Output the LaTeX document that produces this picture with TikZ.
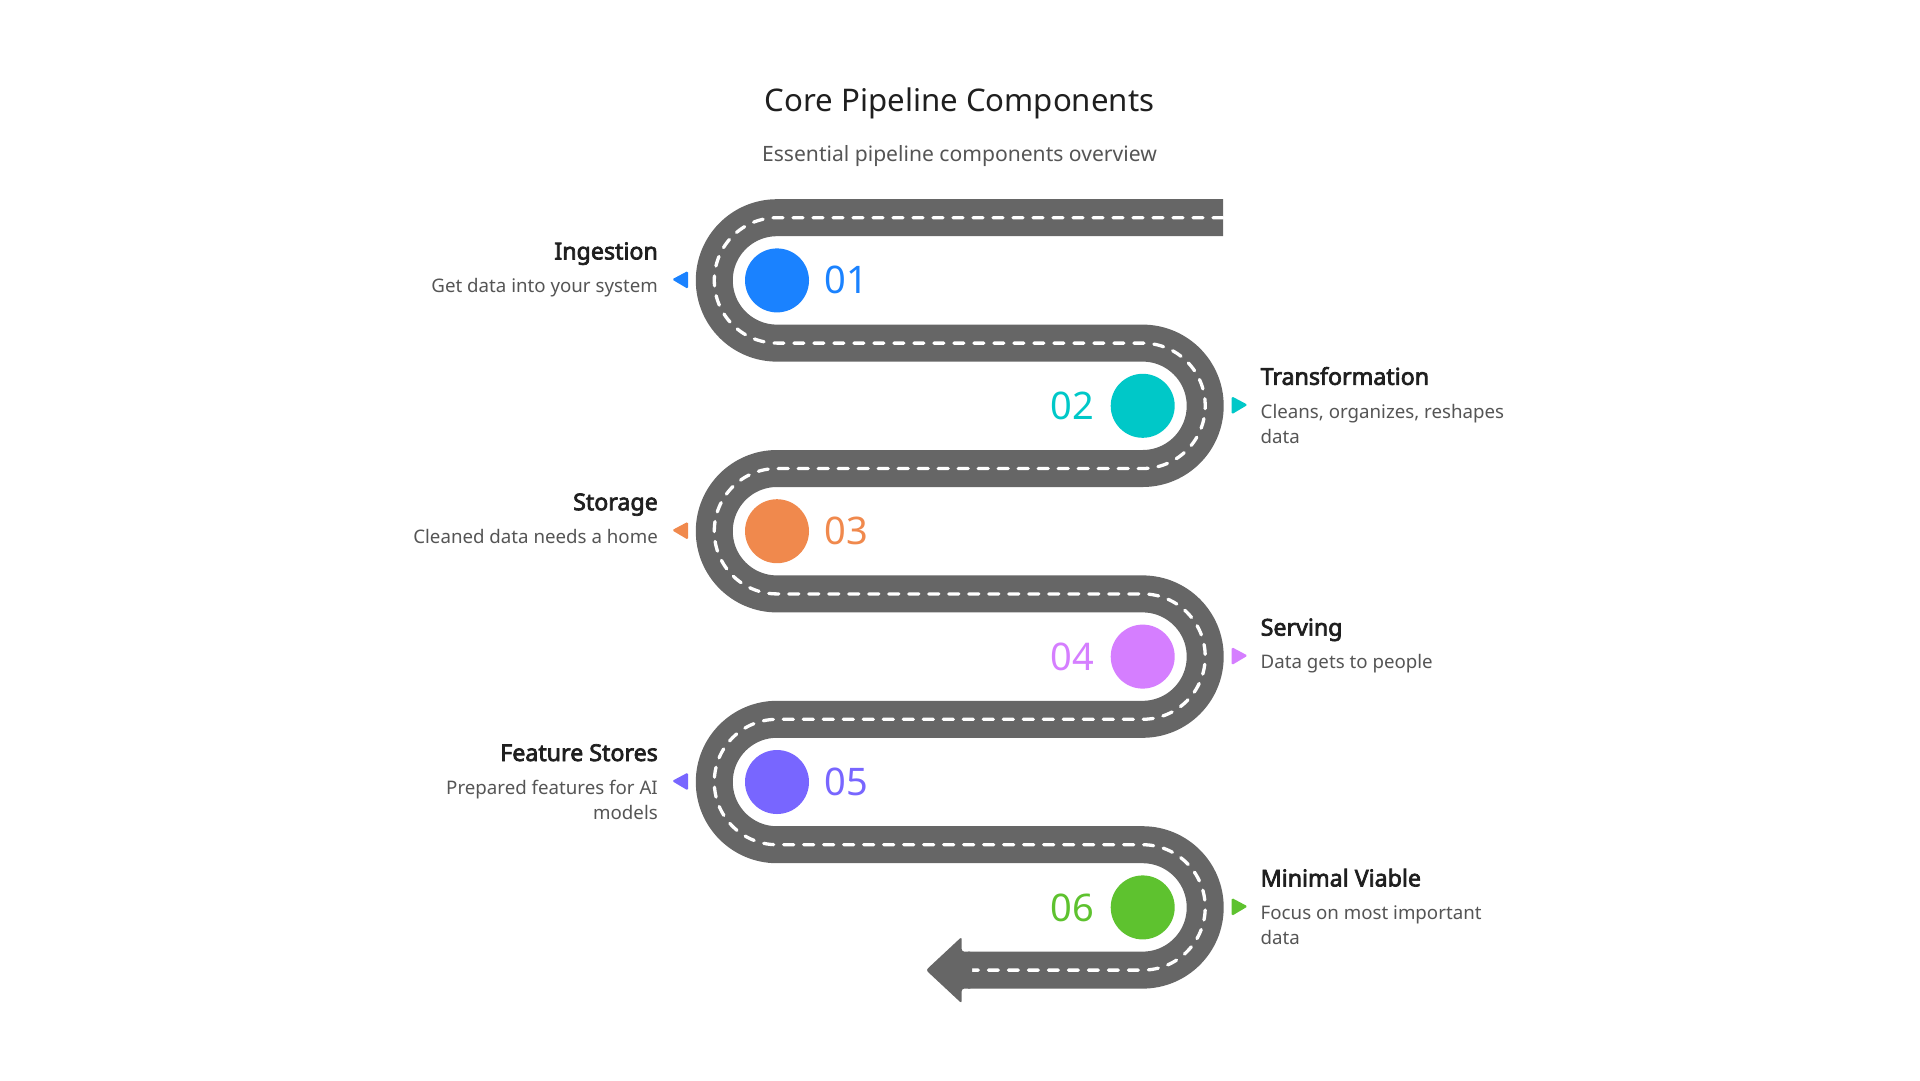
\documentclass[tikz,border=0pt]{standalone}
\usepackage{fontspec}
\setmainfont{Noto Sans}[AutoFakeBold=3]
\usepackage{tikz}
\usetikzlibrary{positioning}

\definecolor{roadgrey}{HTML}{666666}
\definecolor{ink}{HTML}{1F1F1F}
\definecolor{softgrey}{HTML}{555555}
\definecolor{cblue}{HTML}{1A82FF}
\definecolor{cteal}{HTML}{00C8C8}
\definecolor{corange}{HTML}{F0894D}
\definecolor{cpink}{HTML}{D57EFF}
\definecolor{cpurple}{HTML}{7866FF}
\definecolor{cgreen}{HTML}{5EC22F}

\tikzset{
  dot/.style={circle, minimum size=64pt, inner sep=0pt},
  num/.style={font=\fontsize{38}{38}\selectfont, inner sep=0pt},
  head/.style={font=\bfseries\fontsize{23.2}{26}\selectfont, text=ink, inner sep=0pt},
  desc/.style={font=\fontsize{18.7}{25}\selectfont, text=softgrey, inner sep=0pt},
}

\begin{document}
\begin{tikzpicture}[x=1pt, y=-1pt]
        \useasboundingbox (0,0) rectangle (1920,1080);

        % title
        \node[font=\fontsize{31.2}{32}\selectfont, text=ink, anchor=base, inner sep=0pt] (title) at (959.5,111.7) {Core Pipeline Components};
        \node[font=\fontsize{21.1}{22}\selectfont, text=softgrey, anchor=base, inner sep=0pt] (sub) at (959.5,161.7) {Essential pipeline components overview};

        % road
        \draw[roadgrey, line width=37pt, rounded corners=62.6pt,
              postaction={draw=white, line width=3.3pt, dash pattern=on 10pt off 10pt, line cap=round}]
          (1223,217.7) -- (714.3,217.7) -- (714.3,343.1) -- (1205.2,343.1) -- (1205.2,468.5)
          -- (714.3,468.5) -- (714.3,593.9) -- (1205.2,593.9) -- (1205.2,719.3)
          -- (714.3,719.3) -- (714.3,844.7) -- (1205.2,844.7) -- (1205.2,970.1) -- (968,970.1);
        \fill[roadgrey, rounded corners=2.5pt] (926,970.1) -- (961.7,936.8) -- (961.7,951.6) -- (972,951.6)
          -- (972,988.6) -- (961.7,988.6) -- (961.7,1003.4) -- cycle;

        % stops
        \node[dot, fill=cblue] (1) at (777,280.4) {};
        \node[dot, fill=cteal] (2) at (1142.7,405.8) {};
        \node[dot, fill=corange] (3) at (777,531.2) {};
        \node[dot, fill=cpink] (4) at (1142.7,656.6) {};
        \node[dot, fill=cpurple] (5) at (777,782) {};
        \node[dot, fill=cgreen] (6) at (1142.7,907.4) {};

        \node[num, text=cblue, right=15pt of 1] (n1) {01};
        \node[num, text=cteal, left=16pt of 2] (n2) {02};
        \node[num, text=corange, right=15pt of 3] (n3) {03};
        \node[num, text=cpink, left=16pt of 4] (n4) {04};
        \node[num, text=cpurple, right=15pt of 5] (n5) {05};
        \node[num, text=cgreen, left=16pt of 6] (n6) {06};

        % pointers
        \fill[cblue, rounded corners=1.5pt] ([xshift=-89pt, yshift=9.5pt]1.center) -- ([xshift=-105pt, yshift=1pt]1.center) -- ([xshift=-89pt, yshift=-8.5pt]1.center) -- cycle;
        \fill[cteal, rounded corners=1.5pt] ([xshift=89pt, yshift=9.5pt]2.center) -- ([xshift=105pt, yshift=1pt]2.center) -- ([xshift=89pt, yshift=-8.5pt]2.center) -- cycle;
        \fill[corange, rounded corners=1.5pt] ([xshift=-89pt, yshift=9.5pt]3.center) -- ([xshift=-105pt, yshift=1pt]3.center) -- ([xshift=-89pt, yshift=-8.5pt]3.center) -- cycle;
        \fill[cpink, rounded corners=1.5pt] ([xshift=89pt, yshift=9.5pt]4.center) -- ([xshift=105pt, yshift=1pt]4.center) -- ([xshift=89pt, yshift=-8.5pt]4.center) -- cycle;
        \fill[cpurple, rounded corners=1.5pt] ([xshift=-89pt, yshift=9.5pt]5.center) -- ([xshift=-105pt, yshift=1pt]5.center) -- ([xshift=-89pt, yshift=-8.5pt]5.center) -- cycle;
        \fill[cgreen, rounded corners=1.5pt] ([xshift=89pt, yshift=9.5pt]6.center) -- ([xshift=105pt, yshift=1pt]6.center) -- ([xshift=89pt, yshift=-8.5pt]6.center) -- cycle;

        % labels
        \node[head, anchor=base east] (t1) at (658,259.4) {Ingestion};
        \node[desc, anchor=base east, align=right] (d1) at (658,292.6) {Get data into your system};
        \node[head, anchor=base west] (t2) at (1260.5,384.8) {Transformation};
        \node[desc, anchor=base west, align=left] (d2) at (1260.5,443) {Cleans, organizes, reshapes\\data};
        \node[head, anchor=base east] (t3) at (658,510.2) {Storage};
        \node[desc, anchor=base east, align=right] (d3) at (658,543.4) {Cleaned data needs a home};
        \node[head, anchor=base west] (t4) at (1260.5,635.6) {Serving};
        \node[desc, anchor=base west, align=left] (d4) at (1260.5,668.8) {Data gets to people};
        \node[head, anchor=base east] (t5) at (658,761) {Feature Stores};
        \node[desc, anchor=base east, align=right] (d5) at (658,819.2) {Prepared features for AI\\models};
        \node[head, anchor=base west] (t6) at (1260.5,886.4) {Minimal Viable};
        \node[desc, anchor=base west, align=left] (d6) at (1260.5,944.6) {Focus on most important\\data};
      \end{tikzpicture}
\end{document}
